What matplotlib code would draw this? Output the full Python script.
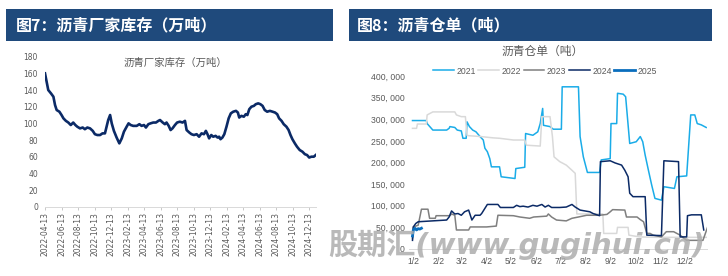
import numpy as np
import matplotlib
matplotlib.use('Agg')
import matplotlib.pyplot as plt
from matplotlib.patches import Rectangle
import pandas as pd

plt.rcParams['font.family'] = ['DejaVu Sans', 'Noto Sans CJK SC']
CJK = ['Noto Sans CJK SC', 'DejaVu Sans']

# ---------------- Data: left chart (沥青厂家库存, 万吨) ----------------
inv_start = '2022-04-13'
inv_days = [0, 6, 12, 22, 31, 37, 43, 53, 61, 68, 77, 86, 95, 104, 112, 119, 129, 139, 147, 156,
            166, 176, 184, 193, 203, 212, 221, 227, 233, 240, 246, 254, 264, 274, 283, 291, 301, 308,
            316, 325, 338, 348, 356, 365, 372, 381, 389, 399, 409, 418, 424, 434, 442, 448, 456,
            463, 470, 479, 487, 497, 507, 516, 522, 532, 540, 549, 559, 568, 577, 586, 593, 599,
            605, 613, 620, 629, 636, 642, 647, 654, 661, 669, 677, 685, 694, 704, 711, 716, 724,
            733, 740, 746, 753, 761, 770, 777, 786, 794, 802, 810, 819, 829, 839, 848, 856, 863,
            872, 880, 890, 898, 905, 912, 921, 929, 939, 949, 958, 966, 974, 982, 991, 998]
inv_values = [160, 150, 140, 136, 132, 122, 116, 114, 110, 106, 103, 101, 98, 101, 98, 96, 94, 95, 93, 95,
              94, 91, 87, 86, 86, 88, 88, 96, 104, 110, 100, 91, 83, 76, 82, 90, 96, 100,
              98, 97, 97, 99, 97, 98, 95, 99, 100, 101, 101, 103, 104, 101, 99, 101, 97,
              92, 94, 98, 101, 102, 101, 103, 92, 89, 87, 86, 87, 84, 88, 87, 91, 87,
              82, 86, 84, 85, 83, 84, 81, 83, 87, 96, 106, 112, 114, 115, 113, 107, 109,
              108, 111, 110, 117, 120, 121, 123, 124, 123, 121, 116, 114, 115, 114, 113, 111, 106,
              103, 99, 96, 92, 86, 81, 76, 72, 68, 66, 63, 62, 59, 60, 60, 62]
inv_ticks = ['2022-04-13', '2022-06-13', '2022-08-13', '2022-10-13', '2022-12-13',
             '2023-02-13', '2023-04-13', '2023-06-13', '2023-08-13', '2023-10-13', '2023-12-13',
             '2024-02-13', '2024-04-13', '2024-06-13', '2024-08-13', '2024-10-13', '2024-12-13']

# ---------------- Data: right chart (沥青仓单, 吨) — day of year ----------------
month_labels = ['1/2', '2/2', '3/2', '4/2', '5/2', '6/2', '7/2', '8/2', '9/2', '10/2', '11/2', '12/2']
month_doy = [2, 33, 61, 92, 122, 153, 183, 214, 245, 275, 306, 336]

doy_2021 = [1, 18, 19, 26, 43, 46, 47, 53, 56, 61, 63, 67, 68, 71, 75, 79, 84, 88, 90, 93, 96, 98,
            108, 110, 127, 128, 139, 140, 149, 155, 158, 161, 162, 170, 174, 184, 185, 205, 207, 211,
            216, 231, 233, 244, 245, 252, 253, 260, 263, 268, 276, 281, 284, 287, 291, 295, 299, 307,
            310, 323, 326, 338, 343, 348, 351, 356, 362]
val_2021 = [297, 297, 290, 275, 275, 279, 283, 281, 275, 273, 256, 256, 294, 283, 275, 271, 260, 252,
            233, 225, 209, 190, 190, 167, 163, 186, 189, 267, 263, 271, 290, 325, 286, 283, 277, 277,
            375, 375, 260, 213, 177, 177, 206, 209, 290, 290, 360, 358, 352, 244, 248, 260, 248, 217,
            182, 148, 117, 113, 144, 140, 167, 169, 310, 310, 290, 287, 281]

doy_2022 = [1, 6, 7, 18, 19, 26, 53, 55, 61, 66, 68, 70, 85, 100, 108, 125, 139, 141, 158, 160, 170,
            173, 175, 182, 190, 197, 201, 203, 235, 236, 252, 253, 266, 267, 280, 300, 364]
val_2022 = [279, 279, 289, 289, 310, 317, 317, 310, 306, 306, 263, 262, 260, 257, 256, 252, 252, 240,
            238, 306, 306, 260, 213, 202, 194, 182, 175, 81, 81, 36, 36, 50, 50, 32, 28, 27, 27]

doy_2023 = [1, 2, 8, 12, 20, 22, 29, 30, 47, 49, 53, 55, 70, 72, 92, 104, 106, 125, 133, 145, 150,
            166, 168, 172, 178, 190, 197, 205, 215, 231, 240, 244, 247, 262, 264, 277, 281, 285, 289,
            293, 297, 307, 313, 322, 330, 338, 358, 364]
val_2023 = [24, 51, 55, 92, 92, 71, 71, 77, 77, 81, 78, 44, 44, 51, 51, 53, 78, 77, 74, 71, 74,
            76, 81, 74, 67, 65, 71, 74, 78, 78, 80, 86, 91, 90, 74, 74, 68, 63, 36,
            36, 32, 28, 40, 40, 32, 20, 20, 52]

doy_2024 = [1, 2, 5, 8, 43, 46, 49, 53, 57, 61, 65, 70, 74, 78, 84, 86, 90, 93, 106, 109, 118, 125,
            129, 133, 137, 143, 149, 154, 160, 164, 168, 172, 182, 190, 197, 201, 207, 219, 223, 231,
            232, 244, 250, 258, 262, 266, 268, 272, 287, 289, 307, 310, 328, 330, 338, 339, 344, 356,
            359]
val_2024 = [20, 51, 59, 63, 67, 74, 88, 81, 82, 78, 86, 90, 67, 78, 78, 82, 94, 103, 103, 96, 96, 96,
            101, 98, 99, 97, 101, 99, 103, 97, 101, 96, 96, 97, 103, 97, 90, 86, 82, 77,
            202, 204, 199, 194, 182, 167, 129, 121, 121, 32, 31, 204, 202, 28, 28, 77, 79, 79,
            44]

doy_2025 = [1, 2, 4, 6, 8, 10, 12]
val_2025 = [30, 44, 48, 44, 47, 46, 48]

series = [('2021', doy_2021, val_2021, '#1AACE8', 1.1),
          ('2022', doy_2022, val_2022, '#D9D9D9', 1.1),
          ('2023', doy_2023, val_2023, '#7F7F7F', 1.1),
          ('2024', doy_2024, val_2024, '#0B2A66', 1.1),
          ('2025', doy_2025, val_2025, '#0A6EBD', 2.0)]

# ---------------- Figure ----------------
W, H = 728, 276
fig = plt.figure(figsize=(W / 100, H / 100), dpi=100)
fig.patch.set_facecolor('white')

def fx(px):
    return px / W

def fy(py):
    return 1 - py / H

bar_color = '#1F4A7C'
for x0, x1 in [(6, 333), (349, 712)]:
    fig.patches.append(Rectangle((fx(x0), fy(40.7)), fx(x1 - x0), (40.7 - 9.3) / H,
                                 transform=fig.transFigure, facecolor=bar_color,
                                 edgecolor='none', zorder=0))
fig.text(fx(16), fy(25.5), '图7：沥青厂家库存（万吨）', color='white', fontsize=11.5,
         fontweight='bold', family=CJK, va='center', ha='left')
fig.text(fx(357), fy(25.5), '图8：沥青仓单（吨）', color='white', fontsize=11.5,
         fontweight='bold', family=CJK, va='center', ha='left')

grey_txt = '#595959'

# ---- Left chart ----
ax1 = fig.add_axes([fx(45), fy(206.7), fx(271), 150 / H])
dates = np.datetime64(inv_start) + np.array(inv_days).astype('timedelta64[D]')
ax1.plot(dates, inv_values, color='#0B2A66', lw=1.9, solid_joinstyle='round')
ax1.set_xlim(np.datetime64(inv_start), np.datetime64(inv_start) + np.timedelta64(999, 'D'))
ax1.set_ylim(0, 180)
ax1.set_yticks(np.arange(0, 181, 20))
ax1.set_xticks(pd.to_datetime(inv_ticks))
ax1.set_xticklabels(inv_ticks, rotation=90, fontsize=5.5, color=grey_txt)
ax1.tick_params(axis='y', length=0, labelsize=5.5, labelcolor=grey_txt, pad=5)
ax1.tick_params(axis='x', length=2.5, color='#BFBFBF', width=0.6, pad=1.5)
for s in ['top', 'right', 'left']:
    ax1.spines[s].set_visible(False)
ax1.spines['bottom'].set_color('#D9D9D9')
ax1.spines['bottom'].set_linewidth(0.7)
ax1.text((175 - 45) / 271, (206.7 - 63) / 150, '沥青厂家库存（万吨）', transform=ax1.transAxes,
         ha='center', va='center', fontsize=7.5, color=grey_txt, family=CJK)

# ---- Right chart ----
ax2 = fig.add_axes([fx(409), fy(249), fx(298), 173 / H])
handles = []
for name, d, v, c, lw in series:
    ln, = ax2.plot(d, np.array(v) * 1000, color=c, lw=lw, label=name)
    handles.append(ln)
ax2.set_xlim(-3.3, 363)
ax2.set_ylim(0, 400000)
yt = np.arange(0, 400001, 50000)
ax2.set_yticks(yt)
ax2.set_yticklabels(['0' if t == 0 else f'{int(t):,}'.replace(',', ', ') for t in yt],
                    family='Liberation Sans', fontsize=6.2, color=grey_txt)
ax2.set_xticks(month_doy)
ax2.set_xticklabels(month_labels, family='Liberation Sans', fontsize=6.2, color=grey_txt)
ax2.tick_params(axis='both', length=0, pad=3)
ax2.tick_params(axis='x', pad=6)
for s in ['top', 'right', 'left']:
    ax2.spines[s].set_visible(False)
ax2.spines['bottom'].set_color('#D9D9D9')
ax2.spines['bottom'].set_linewidth(0.7)
fig.text(fx(543), fy(51), '沥青仓单（吨）', ha='center', va='center', fontsize=8.5,
         color=grey_txt, family=CJK)
leg = fig.legend(handles=handles, loc='center', bbox_to_anchor=(fx(545), fy(71)), ncol=5,
                 frameon=False, prop={'family': 'Liberation Sans', 'size': 6.2},
                 handlelength=2.4, handletextpad=0.3, columnspacing=0.3, borderpad=0,
                 borderaxespad=0)
for t in leg.get_texts():
    t.set_color(grey_txt)

# watermark (present in the reference image)
fig.text(fx(328), fy(245), '股期汇(www.gugihui.cn)', ha='left', va='center', fontsize=21,
         fontweight='bold', style='italic', color='#ADADAD', alpha=0.85,
         family=['DejaVu Sans', 'Noto Sans CJK SC'], zorder=10)

fig.savefig('out.png', dpi=100, facecolor='white')
